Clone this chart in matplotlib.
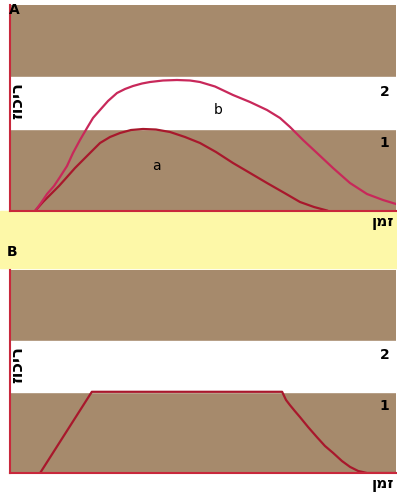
import matplotlib.pyplot as plt

# ---------- Data (x: time 0-100, y: concentration 0-100) ----------
band_edges = [40, 65]          # level 1 / level 2 boundaries
level_labels = ["1", "2"]
time_label = "זמן"
conc_label = "ריכוז"

# Panel A, curve a
a_x = [6.48, 8.55, 10.62, 12.69, 14.77, 16.84, 18.91, 21.24, 23.32, 25.91, 28.50, 31.35,
       34.46, 37.82, 41.45, 45.34, 49.22, 53.37, 57.77, 62.18, 66.58, 71.11, 75.13, 78.76, 82.12]
a_y = [0, 4.37, 8.25, 12.14, 16.50, 20.87, 24.76, 29.13, 33.01, 35.92, 37.86, 39.32,
       39.81, 39.56, 38.35, 35.92, 33.01, 28.64, 23.30, 18.45, 13.59, 8.74, 4.37, 1.94, 0.24]

# Panel A, curve b
b_x = [6.48, 8.03, 9.59, 11.40, 12.95, 14.77, 16.32, 18.13, 19.95, 21.50, 23.32, 25.39,
       27.72, 29.79, 31.87, 34.20, 36.27, 39.64, 43.26, 46.63, 49.22, 53.11, 57.77, 62.18,
       66.58, 69.95, 72.54, 75.91, 79.53, 83.68, 88.08, 92.49, 96.63, 100]
b_y = [0, 3.88, 8.25, 12.14, 16.50, 21.84, 28.16, 34.47, 40.29, 45.15, 49.03, 53.40,
       57.28, 59.22, 60.68, 61.89, 62.62, 63.35, 63.59, 63.35, 62.62, 60.44, 56.31, 52.91,
       49.03, 45.15, 40.78, 34.47, 28.16, 20.87, 13.59, 8.25, 5.34, 3.40]

# Panel B, plateau curve
c_x = [7.8, 21.2, 70.5, 71.5, 72.5, 73.8, 75.1, 77.2, 79.5, 81.6, 83.7, 86.0, 88.1, 90.2, 92.5, 100]
c_y = [0, 40, 40, 36.0, 33.5, 30.5, 27.6, 22.7, 17.7, 13.3, 9.9, 5.9, 3.0, 1.0, 0, 0]

BROWN = "#a68a6c"
YELLOW = "#fdf8a8"
RED = "#c8283c"

W, H = 397, 497
fig = plt.figure(figsize=(W / 100, H / 100), dpi=100)
fig.patch.set_facecolor("white")

# yellow strip between the panels
fig.patches.append(plt.Rectangle((0, 1 - 268 / H), 1, (268 - 211) / H,
                                 transform=fig.transFigure, color=YELLOW, zorder=-1))


def make_panel(top_px, bottom_px):
    ax = fig.add_axes([10 / W, 1 - bottom_px / H, 386 / W, (bottom_px - top_px) / H])
    ax.set_xlim(0, 100)
    ax.set_ylim(0, 100)
    ax.set_facecolor(BROWN)
    ax.axhspan(band_edges[0], band_edges[1], color="white", zorder=0)
    for s in ["top", "right"]:
        ax.spines[s].set_visible(False)
    for s in ["left", "bottom"]:
        ax.spines[s].set_color(RED)
        ax.spines[s].set_linewidth(1.5)
    ax.set_xticks([])
    ax.set_yticks([])
    # level numbers
    ax.text(97, band_edges[0] - 7, level_labels[0], ha="center", va="center",
            fontsize=10, fontweight="bold")
    ax.text(97, band_edges[1] - 7, level_labels[1], ha="center", va="center",
            fontsize=10, fontweight="bold")
    # axis names (Hebrew, reversed for left-to-right drawing)
    ax.text(1.8, (band_edges[0] + band_edges[1]) / 2 + 1, conc_label[::-1], rotation=90,
            ha="center", va="center", fontsize=12, fontweight="bold")
    ax.text(99.5, -2, time_label[::-1], ha="right", va="top", fontsize=11,
            fontweight="bold", clip_on=False)
    return ax


axA = make_panel(5, 211)
axA.plot(a_x, a_y, color="#a8182c", lw=1.6, solid_joinstyle="round")
axA.plot(b_x, b_y, color="#c8285a", lw=1.6, solid_joinstyle="round")
axA.text(38, 22, "a", ha="center", va="center", fontsize=10)
axA.text(54, 49, "b", ha="center", va="center", fontsize=10)

axB = make_panel(270, 473)
axB.plot(c_x, c_y, color="#a8182c", lw=1.6, solid_joinstyle="round")

fig.text(9 / W, 1 - 10 / H, "A", fontsize=10, fontweight="bold", va="center")
fig.text(7 / W, 1 - 252 / H, "B", fontsize=10, fontweight="bold", va="center")

fig.savefig("out.png", dpi=100)
